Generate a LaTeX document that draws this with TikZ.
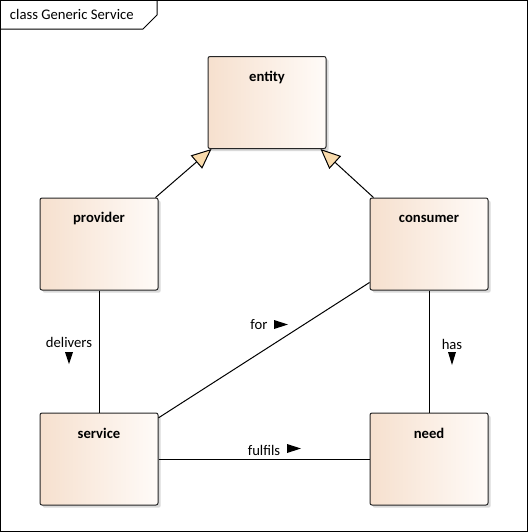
\documentclass[tikz,border=0pt]{standalone}
\usepackage{fontspec}
\setmainfont{Carlito}
\usetikzlibrary{arrows.meta,shadows}
\definecolor{boxleft}{RGB}{246,224,206}
\definecolor{boxright}{RGB}{255,251,248}
\definecolor{genfill}{RGB}{249,219,172}

\begin{document}
\begin{tikzpicture}[x=0.75pt,y=-0.75pt,line width=0.75pt,font=\fontsize{11}{13}\selectfont]

	\tikzstyle class box=[draw=black!85, rounded corners=1.5pt, left color=boxleft, right color=boxright, minimum width=88.5pt, minimum height=69pt, drop shadow={shadow xshift=2pt, shadow yshift=-2pt, fill=black!15, opacity=1}];
	\tikzstyle assoc lines=[line width=0.75pt];
	\tikzstyle gen lines=[line width=0.75pt, -{Triangle[width=13pt,length=15pt,fill=genfill]}];
	\tikzstyle dir marks=[fill=black];

	\useasboundingbox (0,0) rectangle (528,532);
	\draw (0.5,0.5) rectangle (527.5,531.5);
	\draw (0.5,29) -- (143,29) -- (157,15) -- (157,0.5);
	\node[anchor=west] (title) at (5,14) {class Generic Service};

	\foreach \name/\x/\y in {entity/267/102.5,provider/99/244,consumer/429/244,service/99/459,need/429/459}
		\node[class box, label={[anchor=center,yshift=-15.75pt,font=\fontsize{11}{13}\selectfont\bfseries]north:\name}] (\name) at (\x,\y) {};

	\draw[gen lines] ([xshift=-2.25pt]provider.north east) -- ([xshift=3pt]entity.south west);
	\draw[gen lines] ([xshift=3pt]consumer.north west) -- ([xshift=-4.5pt]entity.south east);

	\draw[assoc lines] (provider) -- (service);
	\draw[assoc lines] (consumer) -- (need);
	\draw[assoc lines] (service) -- (need);
	\draw[assoc lines] ([yshift=-4pt]service.north east) -- ([yshift=6pt]consumer.south west);

	\node (delivers label) at (69,342) {delivers};
		\fill[dir marks] (65,352) -- (73,352) -- (69,364) -- cycle;
	\node (for label) at (259,325) {for};
		\fill[dir marks] (274,320) -- (274,329) -- (288,324.5) -- cycle;
	\node (fulfils label) at (264,450) {fulfils};
		\fill[dir marks] (287,444) -- (287,453) -- (301,448.5) -- cycle;
	\node (has label) at (452,344) {has};
		\fill[dir marks] (448,352) -- (456,352) -- (452,365) -- cycle;

\end{tikzpicture}
\end{document}
